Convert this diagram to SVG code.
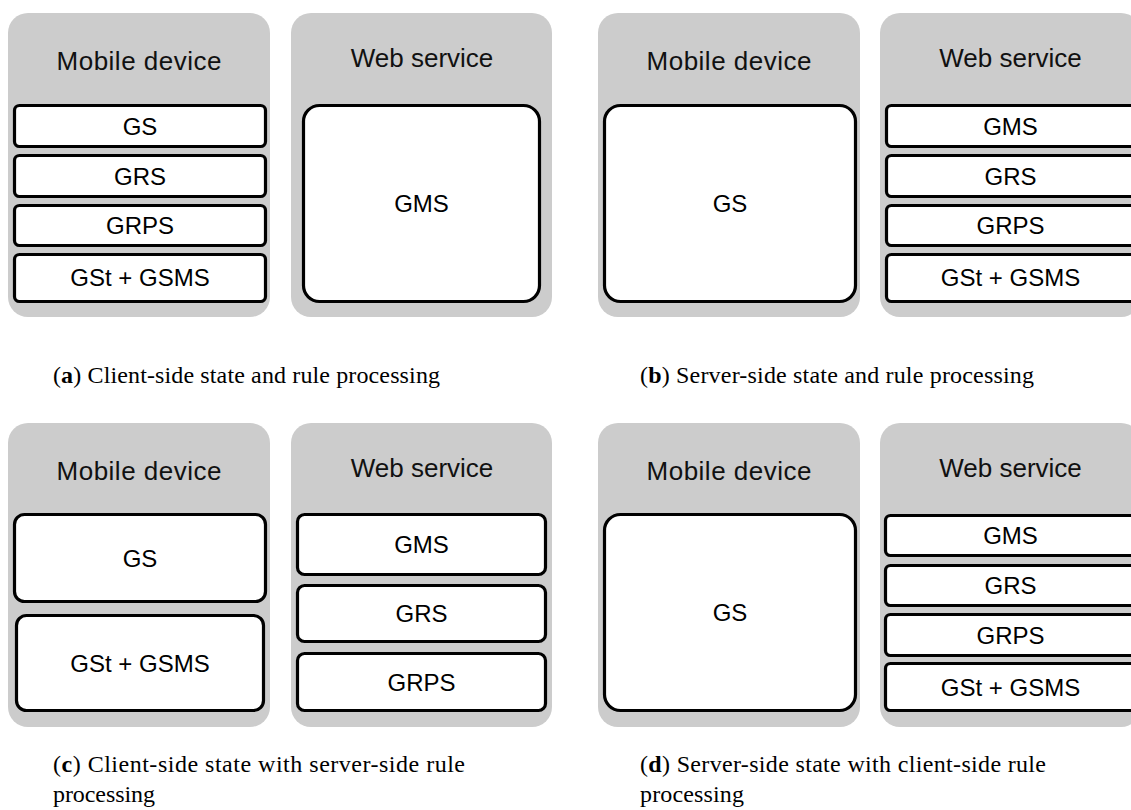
<svg xmlns="http://www.w3.org/2000/svg" width="1131" height="810" viewBox="0 0 1131 810">
<style>
.host{fill:#cccccc;stroke:none}
.comp{fill:#ffffff;stroke:#000000;stroke-width:3.2}
.title{font-family:"Liberation Sans",Arial,sans-serif;font-size:26px;fill:#111111;text-anchor:middle}
.lbl{font-family:"Liberation Sans",Arial,sans-serif;font-size:24px;fill:#000000;text-anchor:middle}
.cap{font-family:"Liberation Serif","Times New Roman",serif;font-size:24px;fill:#000000}
.b{font-weight:bold}
</style>
<rect width="1131" height="810" fill="#ffffff"/>
<g id="connectors"/>

<!-- Panel a -->
<g id="a-mobile">
<rect class="host" x="8" y="13" width="262" height="304" rx="20"/>
<text class="title" x="139" y="70" textLength="165" lengthAdjust="spacing">Mobile device</text>
</g>
<g id="a-mobile-gs"><rect class="comp" x="14.5" y="105.5" width="251" height="41" rx="5"/><text class="lbl" x="140" y="135">GS</text></g>
<g id="a-mobile-grs"><rect class="comp" x="14.5" y="155.5" width="251" height="41" rx="5"/><text class="lbl" x="140" y="185">GRS</text></g>
<g id="a-mobile-grps"><rect class="comp" x="14.5" y="205.5" width="251" height="40" rx="5"/><text class="lbl" x="140" y="234">GRPS</text></g>
<g id="a-mobile-gst"><rect class="comp" x="14.5" y="254.5" width="251" height="47" rx="5"/><text class="lbl" x="140" y="286">GSt + GSMS</text></g>
<g id="a-web">
<rect class="host" x="291" y="13" width="261" height="304" rx="20"/>
<text class="title" x="422" y="67">Web service</text>
</g>
<g id="a-web-gms"><rect class="comp" x="303.5" y="105.5" width="236" height="196" rx="16"/><text class="lbl" x="421.5" y="212">GMS</text></g>
<g id="cap-a"><text class="cap" x="53" y="383" textLength="387" lengthAdjust="spacing">(<tspan class="b">a</tspan>) Client-side state and rule processing</text></g>

<!-- Panel b -->
<g id="b-mobile">
<rect class="host" x="598" y="13" width="262" height="304" rx="20"/>
<text class="title" x="729" y="70" textLength="165" lengthAdjust="spacing">Mobile device</text>
</g>
<g id="b-mobile-gs"><rect class="comp" x="604.5" y="105.5" width="251" height="196" rx="16"/><text class="lbl" x="730" y="212">GS</text></g>
<g id="b-web">
<rect class="host" x="880" y="13" width="261" height="304" rx="20"/>
<text class="title" x="1010.5" y="67">Web service</text>
</g>
<g id="b-web-gms"><rect class="comp" x="886.5" y="105.5" width="251" height="41" rx="5"/><text class="lbl" x="1010.5" y="135">GMS</text></g>
<g id="b-web-grs"><rect class="comp" x="886.5" y="155.5" width="251" height="41" rx="5"/><text class="lbl" x="1010.5" y="185">GRS</text></g>
<g id="b-web-grps"><rect class="comp" x="886.5" y="205.5" width="251" height="40" rx="5"/><text class="lbl" x="1010.5" y="234">GRPS</text></g>
<g id="b-web-gst"><rect class="comp" x="886.5" y="254.5" width="251" height="47" rx="5"/><text class="lbl" x="1010.5" y="286">GSt + GSMS</text></g>
<g id="cap-b"><text class="cap" x="640" y="383" textLength="394" lengthAdjust="spacing">(<tspan class="b">b</tspan>) Server-side state and rule processing</text></g>

<!-- Panel c -->
<g id="c-mobile">
<rect class="host" x="8" y="423" width="262" height="304" rx="20"/>
<text class="title" x="139" y="480" textLength="165" lengthAdjust="spacing">Mobile device</text>
</g>
<g id="c-mobile-gs"><rect class="comp" x="14.5" y="514.5" width="251" height="87" rx="10"/><text class="lbl" x="140" y="566.5">GS</text></g>
<g id="c-mobile-gst"><rect class="comp" x="16.5" y="615.5" width="247" height="95" rx="10"/><text class="lbl" x="140" y="671.5">GSt + GSMS</text></g>
<g id="c-web">
<rect class="host" x="291" y="423" width="261" height="304" rx="20"/>
<text class="title" x="422" y="477">Web service</text>
</g>
<g id="c-web-gms"><rect class="comp" x="297.5" y="514.5" width="248" height="60" rx="7"/><text class="lbl" x="421.5" y="553">GMS</text></g>
<g id="c-web-grs"><rect class="comp" x="297.5" y="585.5" width="248" height="56" rx="7"/><text class="lbl" x="421.5" y="622">GRS</text></g>
<g id="c-web-grps"><rect class="comp" x="297.5" y="653.5" width="248" height="57" rx="7"/><text class="lbl" x="421.5" y="690.5">GRPS</text></g>
<g id="cap-c">
<text class="cap" x="53" y="772" textLength="412" lengthAdjust="spacing">(<tspan class="b">c</tspan>) Client-side state with server-side rule</text>
<text class="cap" x="53" y="802" textLength="102" lengthAdjust="spacing">processing</text>
</g>

<!-- Panel d -->
<g id="d-mobile">
<rect class="host" x="598" y="423" width="262" height="304" rx="20"/>
<text class="title" x="729" y="480" textLength="165" lengthAdjust="spacing">Mobile device</text>
</g>
<g id="d-mobile-gs"><rect class="comp" x="604.5" y="514.5" width="251" height="196" rx="16"/><text class="lbl" x="730" y="621">GS</text></g>
<g id="d-web">
<rect class="host" x="880" y="423" width="261" height="304" rx="20"/>
<text class="title" x="1010.5" y="477">Web service</text>
</g>
<g id="d-web-gms"><rect class="comp" x="885.5" y="515.5" width="251" height="40" rx="5"/><text class="lbl" x="1010.5" y="544">GMS</text></g>
<g id="d-web-grs"><rect class="comp" x="885.5" y="565.5" width="251" height="40" rx="5"/><text class="lbl" x="1010.5" y="594">GRS</text></g>
<g id="d-web-grps"><rect class="comp" x="885.5" y="614.5" width="251" height="41" rx="5"/><text class="lbl" x="1010.5" y="643.5">GRPS</text></g>
<g id="d-web-gst"><rect class="comp" x="885.5" y="663.5" width="251" height="47" rx="5"/><text class="lbl" x="1010.5" y="695.5">GSt + GSMS</text></g>
<g id="cap-d">
<text class="cap" x="640" y="772" textLength="406" lengthAdjust="spacing">(<tspan class="b">d</tspan>) Server-side state with client-side rule</text>
<text class="cap" x="640" y="802" textLength="104" lengthAdjust="spacing">processing</text>
</g>
</svg>
